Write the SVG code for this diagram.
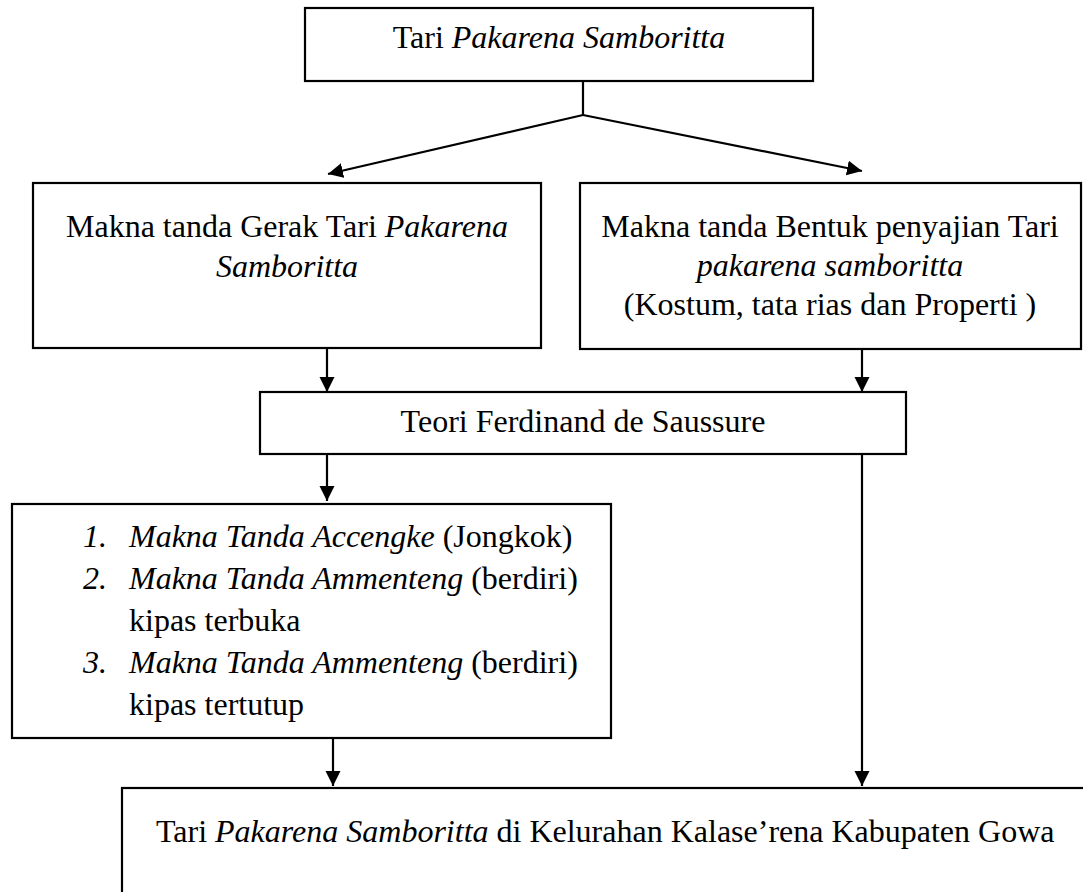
<svg xmlns="http://www.w3.org/2000/svg" width="1083" height="892" viewBox="0 0 1083 892">
<defs>
<style>
.box{fill:#fff;stroke:#000;stroke-width:2.2}
.t{font-family:"Liberation Serif","Times New Roman",serif;font-size:32px;fill:#000}
.i{font-style:italic}
.c{stroke:#000;stroke-width:2.2;fill:none}
</style>
<marker id="ah" markerUnits="userSpaceOnUse" markerWidth="16" markerHeight="16" refX="15" refY="7.5" orient="auto">
<path d="M0,0 L15,7.5 L0,15 z" fill="#000"/>
</marker>
</defs>
<rect width="1083" height="892" fill="#fff"/>
<g id="connectors">
<line class="c" x1="583" y1="81" x2="583" y2="115"/>
<line class="c" x1="583" y1="115" x2="328" y2="174" marker-end="url(#ah)"/>
<line class="c" x1="583" y1="115" x2="862" y2="171" marker-end="url(#ah)"/>
<line class="c" x1="327" y1="348" x2="327" y2="392" marker-end="url(#ah)"/>
<line class="c" x1="862" y1="349" x2="862" y2="392" marker-end="url(#ah)"/>
<line class="c" x1="327" y1="454" x2="327" y2="501" marker-end="url(#ah)"/>
<line class="c" x1="333" y1="738" x2="333" y2="786" marker-end="url(#ah)"/>
<line class="c" x1="862" y1="454" x2="862" y2="786" marker-end="url(#ah)"/>
</g>
<g id="node-top">
<rect class="box" x="305" y="8" width="508" height="73"/>
<text class="t" x="559" y="48" text-anchor="middle">Tari <tspan class="i">Pakarena Samboritta</tspan></text>
</g>
<g id="node-gerak">
<rect class="box" x="33" y="183" width="508" height="165"/>
<text class="t" x="287" y="237" text-anchor="middle">Makna tanda Gerak Tari <tspan class="i">Pakarena</tspan></text>
<text class="t i" x="287" y="277" text-anchor="middle">Samboritta</text>
</g>
<g id="node-bentuk">
<rect class="box" x="580" y="183" width="501" height="166"/>
<text class="t" x="830" y="237" text-anchor="middle">Makna tanda Bentuk penyajian Tari</text>
<text class="t i" x="830" y="276" text-anchor="middle">pakarena samboritta</text>
<text class="t" x="830" y="315" text-anchor="middle">(Kostum, tata rias dan Properti )</text>
</g>
<g id="node-teori">
<rect class="box" x="260" y="392" width="646" height="62"/>
<text class="t" x="583" y="432" text-anchor="middle">Teori Ferdinand de Saussure</text>
</g>
<g id="node-list">
<rect class="box" x="12" y="504" width="599" height="234"/>
<text class="t i" x="83" y="547">1.</text>
<text class="t" x="129" y="547"><tspan class="i">Makna Tanda Accengke</tspan> (Jongkok)</text>
<text class="t i" x="83" y="589">2.</text>
<text class="t" x="129" y="589"><tspan class="i">Makna Tanda Ammenteng</tspan> (berdiri)</text>
<text class="t" x="129" y="631">kipas terbuka</text>
<text class="t i" x="83" y="673">3.</text>
<text class="t" x="129" y="673"><tspan class="i">Makna Tanda Ammenteng</tspan> (berdiri)</text>
<text class="t" x="129" y="715">kipas tertutup</text>
</g>
<g id="node-bottom">
<rect class="box" x="122" y="788" width="1000" height="200"/>
<text class="t" x="156" y="842">Tari <tspan class="i">Pakarena Samboritta</tspan> di Kelurahan Kalase’rena Kabupaten Gowa</text>
</g>
</svg>
